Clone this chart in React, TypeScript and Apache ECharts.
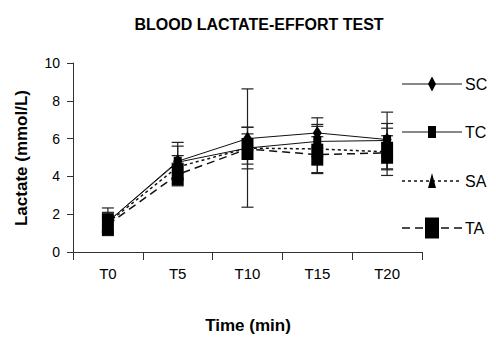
import React, { useEffect, useRef } from "react";
import * as echarts from "echarts";

const categories = ["T0", "T5", "T10", "T15", "T20"];
const seriesNames = ["SC", "TC", "SA", "TA"];
const scValues = [1.6, 4.8, 6.0, 6.3, 5.95];
const tcValues = [1.6, 4.75, 5.5, 5.85, 5.9];
const saValues = [1.55, 4.5, 5.5, 5.45, 5.3];
const taValues = [1.45, 4.1, 5.45, 5.15, 5.25];
const scSd = [0.5, 1.0, 0.6, 0.8, 0.85];
const tcSd = [0.73, 0.85, 3.13, 0.8, 1.5];
const saSd = [0.5, 0.6, 1.1, 1.3, 1.25];
const taSd = [0.4, 0.6, 0.8, 0.95, 0.9];
const yTicks = [0, 2, 4, 6, 8, 10];

const FONT = "'Liberation Sans', Arial, sans-serif";

export default function App() {
  const ref = useRef<HTMLDivElement>(null);
  useEffect(() => {
    if (!ref.current) return;
    const chart = echarts.init(ref.current, null, { renderer: "svg" });

    const values = [scValues, tcValues, saValues, taValues];
    const sds = [scSd, tcSd, saSd, taSd];
    const errData: number[][] = [];
    values.forEach((vals, s) => {
      vals.forEach((v, i) => {
        errData.push([i, v - sds[s][i], v + sds[s][i]]);
      });
    });

    const symbols = ["diamond", "rect", "triangle", "rect"];
    const sizes = [
      [9, 14],
      [8, 11],
      [9, 12],
      [12, 22],
    ];
    const lineStyles: any[] = [
      { type: "solid", width: 1, color: "#111" },
      { type: "solid", width: 1, color: "#111" },
      { type: [3, 3], width: 1.5, color: "#111" },
      { type: [8, 5], width: 1.5, color: "#111" },
    ];

    const lineSeries = seriesNames.map((name, s) => ({
      name,
      type: "line",
      data: values[s],
      symbol: symbols[s],
      symbolSize: sizes[s],
      showAllSymbol: true,
      itemStyle: { color: "#000" },
      lineStyle: lineStyles[s],
      z: 3,
    }));

    // legend drawn with graphic elements
    const legendY = [84, 132, 181, 228];
    const lx1 = 402;
    const lx2 = 462;
    const mx = 432;
    const legendGraphics: any[] = [];
    seriesNames.forEach((name, s) => {
      const y = legendY[s];
      const ls = lineStyles[s];
      legendGraphics.push({
        type: "line",
        shape: { x1: lx1, y1: y, x2: lx2, y2: y },
        style: {
          stroke: "#111",
          lineWidth: ls.width,
          lineDash: Array.isArray(ls.type) ? ls.type : null,
        },
      });
      if (s === 0) {
        legendGraphics.push({
          type: "polygon",
          shape: { points: [[mx, y - 7.5], [mx + 4, y], [mx, y + 7.5], [mx - 4, y]] },
          style: { fill: "#000" },
        });
      } else if (s === 1) {
        legendGraphics.push({
          type: "rect",
          shape: { x: mx - 4, y: y - 6, width: 8, height: 12 },
          style: { fill: "#000" },
        });
      } else if (s === 2) {
        legendGraphics.push({
          type: "polygon",
          shape: { points: [[mx, y - 8], [mx + 4, y + 7], [mx - 4, y + 7]] },
          style: { fill: "#000" },
        });
      } else {
        legendGraphics.push({
          type: "rect",
          shape: { x: mx - 7, y: y - 10.5, width: 14, height: 21 },
          style: { fill: "#000" },
        });
      }
      legendGraphics.push({
        type: "text",
        x: 465,
        y: y,
        style: {
          text: name,
          fontSize: 16,
          fontFamily: FONT,
          fill: "#000",
          verticalAlign: "middle",
          align: "left",
        },
      });
    });

    const option: any = {
      animation: false,
      backgroundColor: "#fff",
      title: {
        text: "BLOOD LACTATE-EFFORT TEST",
        left: 254,
        textAlign: "center",
        top: 11,
        textStyle: { fontSize: 16, fontWeight: "bold", fontFamily: FONT, color: "#000" },
      },
      grid: { left: 73, right: 74, top: 63, bottom: 106, containLabel: false },
      xAxis: {
        type: "category",
        data: categories,
        boundaryGap: true,
        axisLine: { lineStyle: { color: "#333", width: 1 } },
        axisTick: { show: true, interval: 0, length: 8, lineStyle: { color: "#333" } },
        axisLabel: { margin: 14, fontSize: 15, fontFamily: FONT, color: "#000" },
        splitLine: { show: false },
      },
      yAxis: {
        type: "value",
        min: 0,
        max: 10,
        interval: 2,
        axisLine: { show: true, lineStyle: { color: "#333", width: 1 } },
        axisTick: { show: true, length: 6, lineStyle: { color: "#333" } },
        axisLabel: {
          margin: 13,
          fontSize: 14,
          fontFamily: FONT,
          color: "#000",
          formatter: (v: number) => (yTicks.includes(v) ? String(v) : ""),
        },
        splitLine: { show: false },
      },
      graphic: [
        ...legendGraphics,
        {
          type: "text",
          x: 21,
          y: 158,
          rotation: Math.PI / 2,
          style: {
            text: "Lactate (mmol/L)",
            fontSize: 17,
            fontWeight: "bold",
            fontFamily: FONT,
            fill: "#000",
            align: "center",
            verticalAlign: "middle",
          },
        },
        {
          type: "text",
          x: 248,
          y: 325,
          style: {
            text: "Time (min)",
            fontSize: 17,
            fontWeight: "bold",
            fontFamily: FONT,
            fill: "#000",
            align: "center",
            verticalAlign: "middle",
          },
        },
      ],
      series: [
        {
          type: "custom",
          name: "error",
          data: errData,
          z: 2,
          renderItem: (params: any, api: any) => {
            const x = api.value(0);
            const lo = api.coord([x, api.value(1)]);
            const hi = api.coord([x, api.value(2)]);
            const cw = 6;
            const st = { stroke: "#222", lineWidth: 1.2 };
            return {
              type: "group",
              children: [
                { type: "line", shape: { x1: hi[0], y1: hi[1], x2: lo[0], y2: lo[1] }, style: st },
                { type: "line", shape: { x1: hi[0] - cw, y1: hi[1], x2: hi[0] + cw, y2: hi[1] }, style: st },
                { type: "line", shape: { x1: lo[0] - cw, y1: lo[1], x2: lo[0] + cw, y2: lo[1] }, style: st },
              ],
            };
          },
        },
        ...lineSeries,
      ],
    };
    chart.setOption(option);
    return () => chart.dispose();
  }, []);
  return (
    <div
      ref={ref}
      style={{ position: "fixed", left: 0, top: 0, width: 496, height: 358 }}
    />
  );
}
